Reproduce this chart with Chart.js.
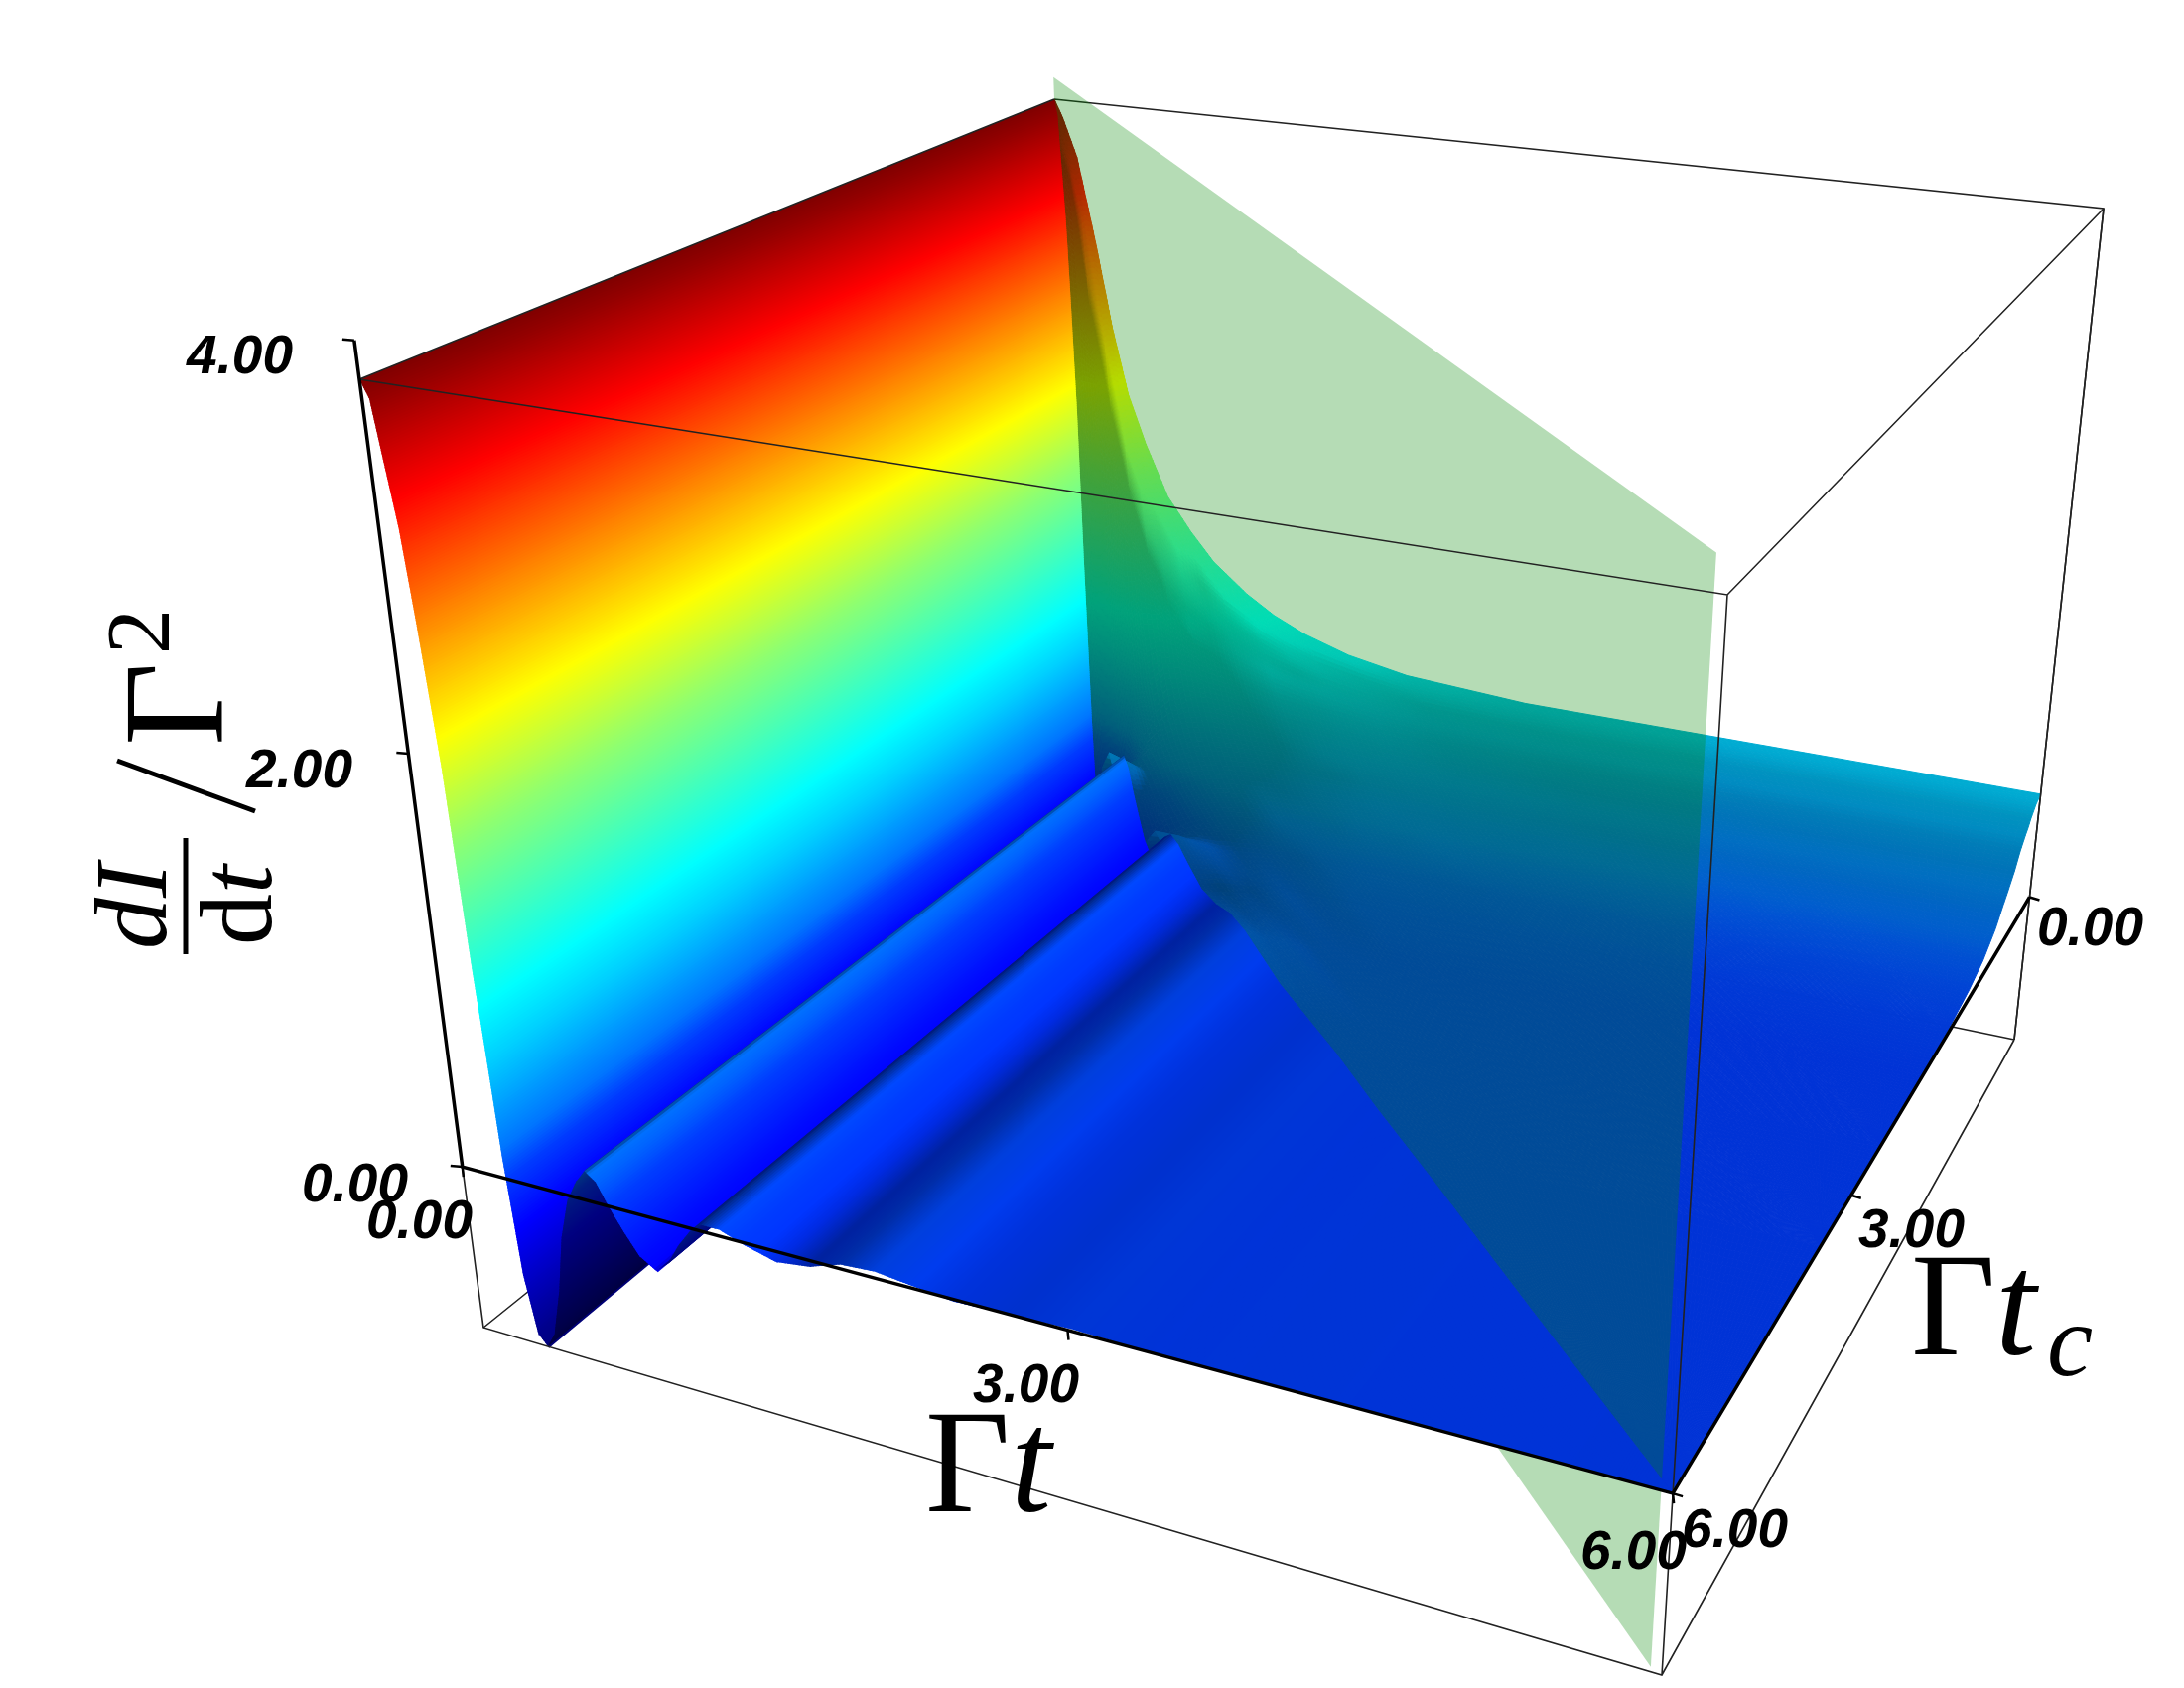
<!DOCTYPE html>
<html>
<head>
<meta charset="utf-8">
<title>dI/dt surface</title>
<style>
html, body { margin: 0; padding: 0; background: #fff; }
canvas { display: block; }
</style>
<script src="https://cdn.jsdelivr.net/npm/chart.js@4/dist/chart.umd.min.js"></script>
</head>
<body>
<canvas id="chartSurface" width="2200" height="1700"></canvas>
<script>
// axis ranges of the box
var tMax = 6;
var zTop = 3.81;
var zBottom = -0.77;

// tick labels
var zTickValues = [0, 2, 4];
var zTickLabels = ["0.00", "2.00", "4.00"];
var tTickValues = [0, 3, 6];
var tTickLabels = ["0.00", "3.00", "6.00"];
var tcTickValues = [0, 3, 6];
var tcTickLabels = ["0.00", "3.00", "6.00"];

// surface for t < tc : depends on t only
var ringT = [0, 0.04, 0.07, 0.11, 0.14, 0.18, 0.21, 0.25, 0.29, 0.34, 0.39, 0.44, 0.5, 0.55, 0.61, 0.67, 0.73, 0.79, 0.85, 0.92,
    1, 1.09, 1.16, 1.23, 1.3, 1.37, 1.47, 1.6, 1.77, 1.95, 2.12, 2.3, 2.5, 2.7, 3, 3.3, 3.7, 4.2, 5, 6];
var ringZ = [3.81, 3.72, 3.45, 3.1, 2.65, 1.95, 1.0, 0.1, -0.45, -0.72, -0.77, -0.7, -0.48, -0.22, -0.03, 0.07, 0.14, 0.1, 0, -0.1,
    -0.2, -0.25, -0.2, -0.1, -0.02, 0.03, 0.03, -0.01, -0.05, -0.03, 0.02, 0.03, 0.01, -0.01, 0, 0.01, 0, 0.005, 0, 0];

// surface for t > tc : one row per tc, columns by lag d = t - tc
var wallTc = [0, 0.05, 0.1, 0.15, 0.2, 0.25, 0.3, 0.4, 0.5, 0.62, 0.73, 0.85, 1.09, 1.37, 1.77, 2.3, 3, 4, 6];
var wallLag = [-0.1, 0.05, 0.135, 0.24, 0.335, 0.43, 0.54, 0.68, 0.83, 0.98, 1.2, 1.38, 1.58, 1.87, 2.25, 3, 4.2, 6];
var wallZ = [
    [3.81, 3.7, 3.46, 2.94, 2.42, 2.02, 1.73, 1.43, 1.24, 1.08, 0.92, 0.82, 0.74, 0.66, 0.6, 0.56, 0.56, 0.56],
    [3.65, 3.45, 3.1, 2.65, 2.25, 1.9, 1.63, 1.35, 1.18, 1.03, 0.88, 0.79, 0.72, 0.65, 0.59, 0.55, 0.55, 0.55],
    [3.25, 3.1, 2.75, 2.35, 2, 1.7, 1.47, 1.23, 1.09, 0.97, 0.84, 0.76, 0.69, 0.63, 0.57, 0.54, 0.54, 0.54],
    [2.5, 2.5, 2.35, 2.05, 1.75, 1.5, 1.3, 1.1, 0.98, 0.89, 0.78, 0.71, 0.65, 0.6, 0.55, 0.52, 0.52, 0.52],
    [1.4, 1.7, 1.85, 1.7, 1.5, 1.3, 1.13, 0.98, 0.88, 0.81, 0.72, 0.66, 0.61, 0.56, 0.52, 0.5, 0.5, 0.5],
    [0.1, 0.7, 1.2, 1.3, 1.22, 1.1, 0.98, 0.86, 0.79, 0.73, 0.65, 0.61, 0.57, 0.53, 0.49, 0.47, 0.47, 0.47],
    [-0.5, 0, 0.55, 0.85, 0.92, 0.9, 0.83, 0.75, 0.7, 0.66, 0.6, 0.56, 0.53, 0.49, 0.46, 0.45, 0.45, 0.45],
    [-0.77, -0.55, -0.1, 0.3, 0.5, 0.58, 0.6, 0.58, 0.56, 0.54, 0.5, 0.48, 0.46, 0.43, 0.41, 0.4, 0.4, 0.4],
    [-0.48, -0.35, -0.05, 0.18, 0.3, 0.38, 0.42, 0.44, 0.44, 0.43, 0.41, 0.4, 0.38, 0.36, 0.34, 0.33, 0.33, 0.33],
    [0, 0.03, 0.08, 0.14, 0.2, 0.25, 0.28, 0.3, 0.31, 0.32, 0.32, 0.31, 0.3, 0.29, 0.28, 0.27, 0.27, 0.27],
    [0.14, 0.1, 0.07, 0.1, 0.14, 0.17, 0.2, 0.22, 0.24, 0.25, 0.25, 0.25, 0.25, 0.24, 0.23, 0.22, 0.22, 0.22],
    [0, -0.02, 0, 0.03, 0.07, 0.1, 0.13, 0.15, 0.16, 0.17, 0.18, 0.18, 0.18, 0.17, 0.17, 0.16, 0.16, 0.16],
    [-0.25, -0.18, -0.08, -0.02, 0.02, 0.05, 0.07, 0.09, 0.1, 0.1, 0.11, 0.11, 0.11, 0.11, 0.1, 0.1, 0.09, 0.09],
    [0.03, 0.03, 0.02, 0.01, 0, 0.01, 0.02, 0.03, 0.04, 0.05, 0.05, 0.05, 0.05, 0.05, 0.05, 0.05, 0.05, 0.05],
    [-0.05, -0.04, -0.02, -0.01, 0, 0.01, 0.01, 0.01, 0.02, 0.02, 0.02, 0.02, 0.02, 0.02, 0.02, 0.02, 0.02, 0.02],
    [0.03, 0.02, 0.01, 0.01, 0, 0, 0, 0, 0, 0, 0, 0, 0, 0, 0, 0, 0, 0],
    [0, 0, 0, 0, 0, 0, 0, 0, 0, 0, 0, 0, 0, 0, 0, 0, 0, 0],
    [0, 0, 0, 0, 0, 0, 0, 0, 0, 0, 0, 0, 0, 0, 0, 0, 0, 0],
    [0, 0, 0, 0, 0, 0, 0, 0, 0, 0, 0, 0, 0, 0, 0, 0, 0, 0]
];

// colour scale: z value -> position in the jet map
var colorZ = [-0.77, 0, 0.14, 0.56, 1.6, 3.81];
var colorPos = [0, 0.184, 0.24, 0.33, 0.517, 1];

// t = tc plane
var planeEnd = 5.93;
var planeZTop = 3.95;
var planeZBottom = -0.8;

// camera: box corners on the page and their depth weights [t0tc6, t0tc0, t6tc0, t6tc6]
var topCorners = [[362, 382, 1.212], [1062, 100, 1.656], [2119, 210, 1.444], [1740, 599, 1]];
var bottomCorners = [[487, 1337, 1.2], [1089, 852, 1.6], [2029, 1047, 1.41], [1674, 1687, 1]];

function project(t, tc, z) {
    var u = t / tMax, v = tc / tMax, s = (zTop - z) / (zTop - zBottom);
    var b = [(1 - u) * v, (1 - u) * (1 - v), u * (1 - v), u * v];
    var sx = 0, sy = 0, sw = 0;
    for (var i = 0; i < 4; i++) {
        var w0 = b[i] * (1 - s) * topCorners[i][2];
        var w1 = b[i] * s * bottomCorners[i][2];
        sx += w0 * topCorners[i][0] + w1 * bottomCorners[i][0];
        sy += w0 * topCorners[i][1] + w1 * bottomCorners[i][1];
        sw += w0 + w1;
    }
    return { x: sx / sw, y: sy / sw };
}

function clamp01(a) { return a < 0 ? 0 : (a > 1 ? 1 : a); }

function jetColor(z, shade) {
    var c = 1;
    for (var k = 0; k < colorZ.length - 1; k++) {
        if (z <= colorZ[k + 1]) {
            c = colorPos[k] + (colorPos[k + 1] - colorPos[k]) * (z - colorZ[k]) / (colorZ[k + 1] - colorZ[k]);
            break;
        }
    }
    c = clamp01(c);
    var r = clamp01(1.5 - Math.abs(4 * c - 3));
    var g = clamp01(1.5 - Math.abs(4 * c - 2));
    var b = clamp01(1.5 - Math.abs(4 * c - 1));
    return 'rgb(' + Math.round(r * shade * 255) + ',' + Math.round(g * shade * 255) + ',' + Math.round(b * shade * 255) + ')';
}

// simple light: facing +t is bright, flat is a bit dimmer, undersides are dark
function shadeOf(zt, ztc, low) {
    var n = Math.sqrt(1 + zt * zt + ztc * ztc);
    var val = (-zt * 1.0 + 0.84) / n;
    return val < low ? low : (val > 1 ? 1 : val);
}

function edgeLine(p) {
    // list of [t, tc, z] -> points, null breaks the line
    return p.map(function (q) {
        if (q === null) return { x: null, y: null };
        return project(q[0], q[1], q[2]);
    });
}

function segLerp(a, b, f) {
    return { x: a.x + (b.x - a.x) * f, y: a.y + (b.y - a.y) * f };
}

// axis ends; ticks are spaced evenly along the drawn line
var axisT0 = project(0, tMax, 0), axisT6 = project(tMax, tMax, 0);
var axisC0 = project(tMax, 0, 0);
var axisZ0 = project(0, tMax, 0), axisZ4 = project(0, tMax, 4);

function tickMarks() {
    var out = [];
    zTickValues.forEach(function (val) {
        var p = segLerp(axisZ0, axisZ4, val / 4);
        out.push({ x: p.x, y: p.y }, { x: p.x - 12, y: p.y - 1 }, { x: null, y: null });
    });
    tTickValues.forEach(function (val) {
        var p = segLerp(axisT0, axisT6, val / tMax);
        out.push({ x: p.x, y: p.y }, { x: p.x + 1, y: p.y + 10 }, { x: null, y: null });
    });
    tcTickValues.forEach(function (val) {
        var p = segLerp(axisC0, axisT6, val / tMax);
        out.push({ x: p.x, y: p.y }, { x: p.x + 10, y: p.y + 3 }, { x: null, y: null });
    });
    return out;
}

function fillQuad(ctx, chart, a, b, c, d, color, outline) {
    var sx = chart.scales.x, sy = chart.scales.y;
    ctx.fillStyle = color;
    ctx.beginPath();
    ctx.moveTo(sx.getPixelForValue(a.x), sy.getPixelForValue(a.y));
    ctx.lineTo(sx.getPixelForValue(b.x), sy.getPixelForValue(b.y));
    ctx.lineTo(sx.getPixelForValue(c.x), sy.getPixelForValue(c.y));
    ctx.lineTo(sx.getPixelForValue(d.x), sy.getPixelForValue(d.y));
    ctx.closePath();
    ctx.fill();
    if (outline) {
        ctx.strokeStyle = color;
        ctx.stroke();
    }
}

function wallNode(i, j) {
    var tc = wallTc[i];
    var t = Math.max(0, Math.min(tc + wallLag[j], tMax));
    return { t: t, tc: tc, z: wallZ[i][j] };
}

function wallSlopes(i, j) {
    var jm = Math.max(j - 1, 0), jp = Math.min(j + 1, wallLag.length - 1);
    var im = Math.max(i - 1, 0), ip = Math.min(i + 1, wallTc.length - 1);
    var dt = wallNode(i, jp).t - wallNode(i, jm).t;
    var zt = dt > 1e-6 ? (wallZ[i][jp] - wallZ[i][jm]) / dt : 0;
    var dtc = wallTc[ip] - wallTc[im];
    var zl = (wallZ[ip][j] - wallZ[im][j]) / dtc;
    return { zt: zt, ztc: zl - zt };
}

function pixelGap(a, b) {
    return Math.sqrt((a.x - b.x) * (a.x - b.x) + (a.y - b.y) * (a.y - b.y));
}

function drawWall(ctx, chart) {
    for (var i = 0; i < wallTc.length - 1; i++) {
        for (var j = 0; j < wallLag.length - 1; j++) {
            var n00 = wallNode(i, j), n01 = wallNode(i, j + 1), n10 = wallNode(i + 1, j), n11 = wallNode(i + 1, j + 1);
            var s00 = wallSlopes(i, j), s01 = wallSlopes(i, j + 1), s10 = wallSlopes(i + 1, j), s11 = wallSlopes(i + 1, j + 1);
            var mix = function (key, f, g) {
                return (n00[key] * (1 - g) + n01[key] * g) * (1 - f) + (n10[key] * (1 - g) + n11[key] * g) * f;
            };
            var mixS = function (key, f, g) {
                return (s00[key] * (1 - g) + s01[key] * g) * (1 - f) + (s10[key] * (1 - g) + s11[key] * g) * f;
            };
            var at = function (f, g) { return project(mix('t', f, g), mix('tc', f, g), mix('z', f, g)); };
            var stepsF = Math.min(30, Math.max(1, Math.ceil(Math.max(pixelGap(at(0, 0), at(1, 0)), pixelGap(at(0, 1), at(1, 1))) / 6)));
            var stepsG = Math.min(30, Math.max(1, Math.ceil(Math.max(pixelGap(at(0, 0), at(0, 1)), pixelGap(at(1, 0), at(1, 1))) / 6)));
            for (var a = 0; a < stepsF; a++) {
                for (var b = 0; b < stepsG; b++) {
                    var f0 = a / stepsF, f1 = (a + 1) / stepsF, g0 = b / stepsG, g1 = (b + 1) / stepsG;
                    var fm = (f0 + f1) / 2, gm = (g0 + g1) / 2;
                    var color = jetColor(mix('z', fm, gm), shadeOf(mixS('zt', fm, gm), mixS('ztc', fm, gm), 0.68));
                    fillQuad(ctx, chart, at(f0, g0), at(f0, g1), at(f1, g1), at(f1, g0), color, true);
                }
            }
        }
    }
}

function drawRing(ctx, chart) {
    var slope = function (j) {
        var jm = Math.max(j - 1, 0), jp = Math.min(j + 1, ringT.length - 1);
        return (ringZ[jp] - ringZ[jm]) / (ringT[jp] - ringT[jm]);
    };
    for (var j = 0; j < ringT.length - 1; j++) {
        var s0 = slope(j), s1 = slope(j + 1);
        var gap = pixelGap(project(ringT[j], tMax, ringZ[j]), project(ringT[j + 1], tMax, ringZ[j + 1]));
        var steps = Math.max(1, Math.ceil(gap / 3));
        for (var a = 0; a < steps; a++) {
            var f0 = a / steps, f1 = (a + 1) / steps, fm = (f0 + f1) / 2;
            // each strip runs a little under the next one, so no seams show
            var fx = (j === ringT.length - 2 && a === steps - 1) ? f1 : f1 + 0.7 / steps;
            var t0 = ringT[j] + (ringT[j + 1] - ringT[j]) * f0;
            var t1 = ringT[j] + (ringT[j + 1] - ringT[j]) * fx;
            var z0 = ringZ[j] + (ringZ[j + 1] - ringZ[j]) * f0;
            var z1 = ringZ[j] + (ringZ[j + 1] - ringZ[j]) * fx;
            var zm = ringZ[j] + (ringZ[j + 1] - ringZ[j]) * fm;
            var color = jetColor(zm, shadeOf(s0 + (s1 - s0) * fm, 0, 0.5));
            fillQuad(ctx, chart, project(t0, t0, z0), project(t1, t1, z1), project(t1, tMax, z1), project(t0, tMax, z0), color, false);
        }
    }
}

function drawPlane(ctx, chart) {
    var sx = chart.scales.x, sy = chart.scales.y;
    var pts = [project(0, 0, planeZTop), project(planeEnd, planeEnd, planeZTop),
        project(planeEnd, planeEnd, planeZBottom), project(0, 0, planeZBottom)];
    ctx.fillStyle = 'rgba(0, 135, 0, 0.29)';
    ctx.beginPath();
    pts.forEach(function (p, i) {
        if (i === 0) ctx.moveTo(sx.getPixelForValue(p.x), sy.getPixelForValue(p.y));
        else ctx.lineTo(sx.getPixelForValue(p.x), sy.getPixelForValue(p.y));
    });
    ctx.closePath();
    ctx.fill();
}

// paints the surface right after the back edges of the box
var surfacePlugin = {
    id: 'surface',
    afterDatasetDraw: function (chart, args) {
        if (chart.data.datasets[args.index].label !== 'box back') return;
        var ctx = chart.ctx;
        ctx.save();
        ctx.lineWidth = 1;
        ctx.lineJoin = 'round';
        drawWall(ctx, chart);
        drawPlane(ctx, chart);
        drawRing(ctx, chart);
        ctx.restore();
    }
};

function rotatedText(ctx, chart, txt, x, y, font) {
    ctx.save();
    ctx.translate(chart.scales.x.getPixelForValue(x), chart.scales.y.getPixelForValue(y));
    ctx.rotate(-Math.PI / 2);
    ctx.font = font;
    ctx.textAlign = 'left';
    ctx.textBaseline = 'alphabetic';
    ctx.fillText(txt, 0, 0);
    ctx.restore();
}

function plainText(ctx, chart, txt, x, y, font) {
    ctx.font = font;
    ctx.fillText(txt, chart.scales.x.getPixelForValue(x), chart.scales.y.getPixelForValue(y));
}

var labelPlugin = {
    id: 'labels',
    afterDatasetsDraw: function (chart) {
        var ctx = chart.ctx;
        var sx = chart.scales.x, sy = chart.scales.y;
        var tickFont = 'italic bold 55px "Liberation Sans"';
        ctx.save();
        ctx.fillStyle = '#000';
        ctx.textAlign = 'left';
        ctx.textBaseline = 'alphabetic';

        plainText(ctx, chart, zTickLabels[2], 188, 376, tickFont);
        plainText(ctx, chart, zTickLabels[1], 248, 793, tickFont);
        plainText(ctx, chart, zTickLabels[0], 304, 1210, tickFont);
        plainText(ctx, chart, tTickLabels[0], 369, 1247, tickFont);
        plainText(ctx, chart, tTickLabels[1], 980, 1412, tickFont);
        plainText(ctx, chart, tTickLabels[2], 1592, 1580, tickFont);
        plainText(ctx, chart, tcTickLabels[0], 2052, 952, tickFont);
        plainText(ctx, chart, tcTickLabels[1], 1872, 1256, tickFont);
        plainText(ctx, chart, tcTickLabels[2], 1694, 1558, tickFont);

        var big = '148px "Liberation Serif"';
        var bigIt = 'italic 148px "Liberation Serif"';
        plainText(ctx, chart, "Γ", 932, 1522, big);
        plainText(ctx, chart, "t", 1018, 1522, bigIt);
        plainText(ctx, chart, "Γ", 1925, 1364, big);
        plainText(ctx, chart, "t", 2010, 1364, bigIt);
        plainText(ctx, chart, "c", 2062, 1385, 'italic 104px "Liberation Serif"');

        // rotated y label
        rotatedText(ctx, chart, "dI", 167, 956, 'italic 104px "Liberation Serif"');
        rotatedText(ctx, chart, "d", 273, 952, '104px "Liberation Serif"');
        rotatedText(ctx, chart, "t", 273, 900, 'italic 104px "Liberation Serif"');
        rotatedText(ctx, chart, "Γ", 223, 751, '145px "Liberation Serif"');
        rotatedText(ctx, chart, "2", 170, 659, '92px "Liberation Serif"');
        ctx.strokeStyle = '#000';
        ctx.lineWidth = 5;
        ctx.beginPath();
        ctx.moveTo(sx.getPixelForValue(187), sy.getPixelForValue(961));
        ctx.lineTo(sx.getPixelForValue(187), sy.getPixelForValue(844));
        ctx.moveTo(sx.getPixelForValue(118), sy.getPixelForValue(766));
        ctx.lineTo(sx.getPixelForValue(257), sy.getPixelForValue(817));
        ctx.stroke();
        ctx.restore();
    }
};

function lineSet(label, points, color, width, order) {
    return {
        label: label,
        data: points,
        showLine: true,
        spanGaps: false,
        pointRadius: 0,
        borderColor: color,
        borderWidth: width,
        order: order,
        fill: false,
        tension: 0
    };
}

var T = tMax;
var boxBack = [
    [0, 0, zTop], [0, 0, zBottom], null,
    [0, T, zBottom], [0, 0, zBottom], [T, 0, zBottom], null,
    [T, 0, zBottom], [T, 0, zTop], [0, 0, zTop]
];
var boxFront = [
    [0, T, zTop], [0, 0, zTop], null,
    [0, T, zTop], [T, T, zTop], [T, 0, zTop], null,
    [0, T, zTop], [0, T, zBottom], [T, T, zBottom], [T, 0, zBottom], null,
    [T, T, zTop], [T, T, zBottom], null,
    [T, 0, zTop], [T, 0, zBottom]
];

var chartSurface = new Chart(document.getElementById("chartSurface"), {
    type: 'scatter',
    data: {
        datasets: [
            lineSet('axes', [axisZ4, axisZ0, axisT6, axisC0], '#000', 3.5, 1),
            lineSet('ticks', tickMarks(), '#000', 2.5, 1),
            lineSet('box front', edgeLine(boxFront), '#222', 1.6, 2),
            lineSet('box back', edgeLine(boxBack), '#222', 1.6, 3)
        ]
    },
    options: {
        responsive: false,
        animation: false,
        layout: { padding: 0 },
        plugins: {
            legend: { display: false },
            tooltip: { enabled: false },
            title: { display: false }
        },
        scales: {
            x: { type: 'linear', min: 0, max: 2200, display: false },
            y: { type: 'linear', min: 0, max: 1700, reverse: true, display: false }
        }
    },
    plugins: [surfacePlugin, labelPlugin]
});
</script>
</body>
</html>
